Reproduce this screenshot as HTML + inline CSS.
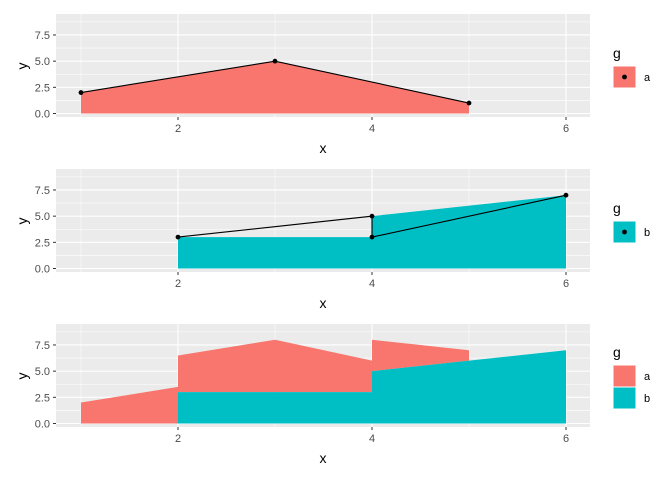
<!DOCTYPE html>
<html><head><meta charset="utf-8"><style>body{margin:0;background:#fff}svg{display:block;font-family:"Liberation Sans",sans-serif}</style></head>
<body>
<svg id="c" width="672" height="480"></svg>
<script>
const aX=[1,3,5];
const aY=[2,5,1];
const bX=[2,4,4,6];
const bY=[3,5,3,7];
const xTicks=[2,4,6];
const yTicks=[0,2.5,5,7.5];
const yTickLabels=["0.0","2.5","5.0","7.5"];
const groupNames=["a","b"];
const colA="#F8766D",colB="#00BFC4";
const NS="http://www.w3.org/2000/svg";
const svg=document.getElementById('c');
const L=56,R=590;
function sx(x){return 81+(x-1)*97;}
function mk(tag,attrs,parent){const e=document.createElementNS(NS,tag);for(const k in attrs)e.setAttribute(k,attrs[k]);(parent||svg).appendChild(e);return e;}
function pts(a){return a.map(p=>p[0].toFixed(2)+','+p[1].toFixed(2)).join(' ');}
function val(X,Y,x,side){
  const n=X.length;if(x<X[0]||x>X[n-1])return 0;
  const idx=[];for(let i=0;i<n;i++)if(X[i]===x)idx.push(i);
  if(idx.length){
    if(x===X[0]&&side<0)return 0;
    if(x===X[n-1]&&side>0)return 0;
    return side<0?Y[idx[0]]:Y[idx[idx.length-1]];
  }
  for(let i=0;i<n-1;i++)if(X[i]<x&&x<X[i+1])return Y[i]+(Y[i+1]-Y[i])*(x-X[i])/(X[i+1]-X[i]);
  return 0;
}
function sortedArea(X,Y){const o=X.map((x,i)=>[x,Y[i]]);o.sort((p,q)=>p[0]-q[0]||p[1]-q[1]);return o;}
const tops=[14,169,324];
tops.forEach((top,pi)=>{
  const y0=top+99.5;const k=10.47;
  const sy=v=>y0-v*k;
  const g=mk('g',{});
  
  
  mk('rect',{x:L,y:top,width:R-L,height:103,fill:'#EBEBEB'},g);
  [1.25,3.75,6.25,8.75].forEach(v=>{if(sy(v)>top)mk('line',{x1:L,x2:R,y1:sy(v),y2:sy(v),stroke:'#fff','stroke-width':0.55},g);});
  [1,3,5].forEach(v=>mk('line',{x1:sx(v),x2:sx(v),y1:top,y2:top+103,stroke:'#fff','stroke-width':0.55},g));
  yTicks.forEach((v,i)=>{mk('line',{x1:L,x2:R,y1:sy(v),y2:sy(v),stroke:'#fff','stroke-width':1.1},g);
    mk('line',{x1:L-3,x2:L,y1:sy(v),y2:sy(v),stroke:'#333','stroke-width':1},g);
    const t=mk('text',{x:L-6,y:sy(v)+4,'text-anchor':'end','font-size':11,fill:'#4D4D4D'},g);t.textContent=yTickLabels[i];
    });
  xTicks.forEach(v=>{mk('line',{x1:sx(v),x2:sx(v),y1:top,y2:top+103,stroke:'#fff','stroke-width':1.1},g);
    mk('line',{x1:sx(v),x2:sx(v),y1:top+103,y2:top+106,stroke:'#333','stroke-width':1},g);
    const t=mk('text',{x:sx(v),y:top+118,'text-anchor':'middle','font-size':11,fill:'#4D4D4D'},g);t.textContent=v;
    });
  if(pi<2){
    const X=pi===0?aX:bX,Y=pi===0?aY:bY,col=pi===0?colA:colB;
    const s=sortedArea(X,Y);
    const poly=[[sx(s[0][0]),sy(0)]].concat(s.map(p=>[sx(p[0]),sy(p[1])])).concat([[sx(s[s.length-1][0]),sy(0)]]);
    const ar=mk('polygon',{points:pts(poly),fill:col},g);
    
    const ln=mk('polyline',{points:pts(X.map((x,i)=>[sx(x),sy(Y[i])])),fill:'none',stroke:'#000','stroke-width':1.1},g);
    
    X.forEach((x,i)=>{const c=mk('circle',{cx:sx(x),cy:sy(Y[i]),r:2.4,fill:'#000'},g);
      });
  } else {
    const ev=[...new Set(aX.concat(bX))].sort((p,q)=>p-q);
    const topPts=[],botPts=[],bPts=[];
    ev.forEach(x=>{[-1,1].forEach(sd=>{const b=val(bX,sortedArea(bX,bY).map(p=>p[1]),x,sd);const a=val(aX,aY,x,sd);
      topPts.push([sx(x),sy(a+b)]);botPts.push([sx(x),sy(b)]);bPts.push([sx(x),sy(b)]);});});
    const pa=mk('polygon',{points:pts(topPts.concat(botPts.slice().reverse())),fill:colA},g);
    
    const pb=mk('polygon',{points:pts(bPts.concat([[sx(ev[ev.length-1]),sy(0)],[sx(ev[0]),sy(0)]])),fill:colB},g);
    
  }
  const xt=mk('text',{x:323,y:top+139,'text-anchor':'middle','font-size':14,fill:'#000'},g);xt.textContent='x';
  
  const yt=mk('text',{x:0,y:0,transform:`translate(27,${top+52}) rotate(-90)`,'text-anchor':'middle','font-size':14,fill:'#000'},g);yt.textContent='y';
  
  const lg=mk('g',{},g);
  
  const keys=pi===0?[0]:pi===1?[1]:[0,1];
  const off=(keys.length-1)*-11;
  const lt=mk('text',{x:613,y:top+44+off,'font-size':14,fill:'#000'},lg);lt.textContent='g';
  keys.forEach((gi,j)=>{const ky=top+52+off+j*22;
    const kr=mk('rect',{x:613,y:ky,width:23,height:22,fill:gi===0?colA:colB,stroke:'#fff','stroke-width':1},lg);
    
    if(pi<2)mk('circle',{cx:624.5,cy:ky+11,r:2.4,fill:'#000'},lg);
    const tx=mk('text',{x:644,y:ky+15,'font-size':11,fill:'#000'},lg);tx.textContent=groupNames[gi];
    });
});
</script>
</body></html>
